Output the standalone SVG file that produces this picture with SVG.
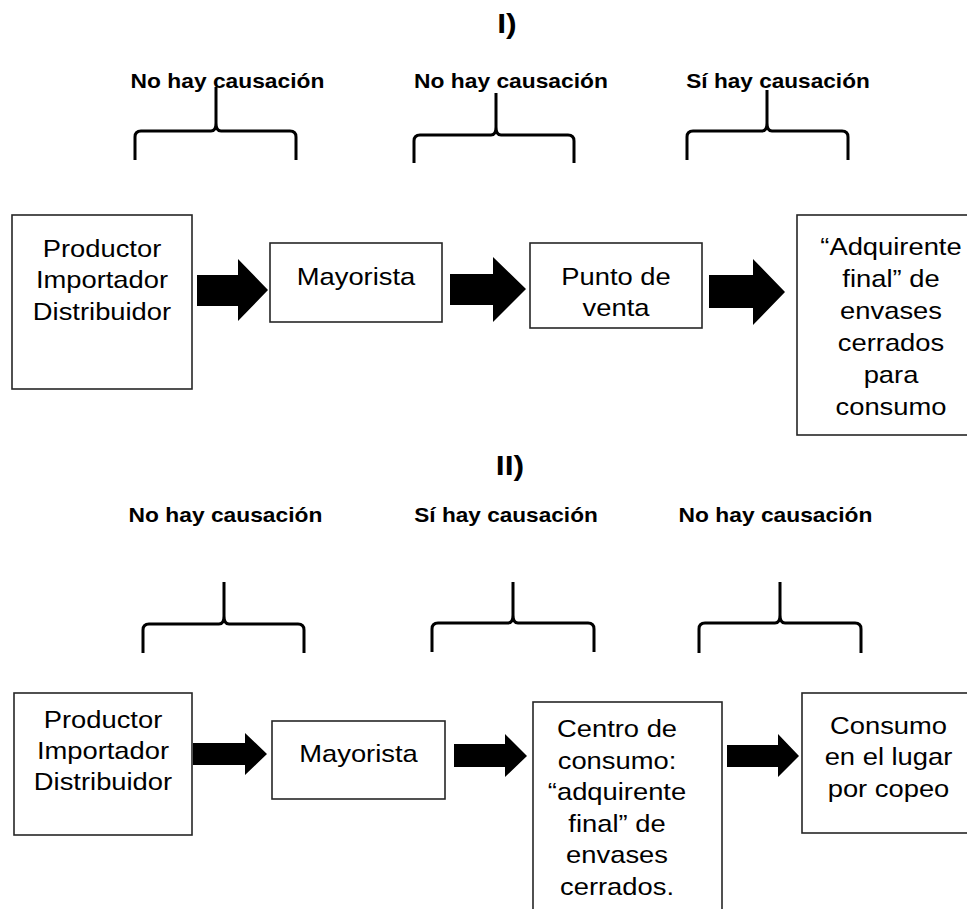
<svg xmlns="http://www.w3.org/2000/svg" width="967" height="909" viewBox="0 0 967 909">
<style>
.box{fill:#fff;stroke:#262626;stroke-width:1.6}
.t{font-family:"Liberation Sans",Arial,sans-serif;font-size:24px;fill:#000;text-anchor:middle}
.b{font-family:"Liberation Sans",Arial,sans-serif;font-size:20px;font-weight:bold;fill:#000;text-anchor:middle}
.h{font-family:"Liberation Sans",Arial,sans-serif;font-size:28px;font-weight:bold;fill:#000;text-anchor:middle}
.brace{fill:none;stroke:#000;stroke-width:3;stroke-linejoin:round}
.arrow{fill:#000;stroke:none}
</style>
<rect width="967" height="909" fill="#fff"/>
<g id="titles">
<text class="h" transform="translate(507,33) scale(1.14,1)">I)</text>
<text class="h" transform="translate(510,475) scale(1.14,1)">II)</text>
</g>
<g id="labels">
<text class="b" transform="translate(227.5,88) scale(1.14,1)">No hay causación</text>
<text class="b" transform="translate(511,88) scale(1.14,1)">No hay causación</text>
<text class="b" transform="translate(778,88) scale(1.14,1)" textLength="161" lengthAdjust="spacingAndGlyphs">Sí hay causación</text>
<text class="b" transform="translate(225.5,522) scale(1.14,1)">No hay causación</text>
<text class="b" transform="translate(506,522) scale(1.14,1)" textLength="161" lengthAdjust="spacingAndGlyphs">Sí hay causación</text>
<text class="b" transform="translate(775.5,522) scale(1.14,1)">No hay causación</text>
</g>
<g id="braces">
<path class="brace" d="M135,160 V137 Q135,131 141,131 H211 Q216,131 216,123 V87 M216,123 Q216,131 221,131 H290 Q296,131 296,137 V160"/>
<path class="brace" d="M414,163 V141 Q414,135 420,135 H491 Q496,135 496,127 V93 M496,127 Q496,135 501,135 H568 Q574,135 574,141 V163"/>
<path class="brace" d="M687,160 V137 Q687,131 693,131 H762 Q767,131 767,123 V90 M767,123 Q767,131 772,131 H842 Q848,131 848,137 V160"/>
<path class="brace" d="M143,653 V630 Q143,624 149,624 H219 Q224,624 224,616 V582 M224,616 Q224,624 229,624 H298 Q304,624 304,630 V653"/>
<path class="brace" d="M432,652 V629 Q432,623 438,623 H508 Q513,623 513,615 V582 M513,615 Q513,623 518,623 H588 Q594,623 594,629 V652"/>
<path class="brace" d="M699,653 V629 Q699,623 705,623 H775 Q780,623 780,615 V582 M780,615 Q780,623 785,623 H855 Q861,623 861,629 V653"/>
</g>
<g id="connectors">
<path class="arrow" d="M197,275 H238 V259 L268,290 L238,321 V306 H197 Z"/>
<path class="arrow" d="M450,274 H493 V257 L526,289 L493,322 V305 H450 Z"/>
<path class="arrow" d="M709,275 H753 V259 L785,292 L753,325 V308 H709 Z"/>
<path class="arrow" d="M193,743 H245 V733 L267,754 L245,775 V765 H193 Z"/>
<path class="arrow" d="M454,744 H505 V734 L527,756 L505,777 V767 H454 Z"/>
<path class="arrow" d="M727,745 H778 V734 L799,756 L778,777 V767 H727 Z"/>
</g>
<g id="productor1">
<rect class="box" x="12" y="215" width="180" height="174"/>
<text class="t" transform="translate(102,257) scale(1.14,1)"><tspan x="0" y="0">Productor</tspan><tspan x="0" y="31.5">Importador</tspan><tspan x="0" y="63">Distribuidor</tspan></text>
</g>
<g id="mayorista1">
<rect class="box" x="270" y="243" width="172" height="79"/>
<text class="t" transform="translate(356,285) scale(1.14,1)">Mayorista</text>
</g>
<g id="puntoventa">
<rect class="box" x="530" y="243" width="172" height="85"/>
<text class="t" transform="translate(616,285) scale(1.14,1)"><tspan x="0" y="0">Punto de</tspan><tspan x="0" y="31">venta</tspan></text>
</g>
<g id="adquirente">
<rect class="box" x="797" y="215" width="190" height="220"/>
<text class="t" transform="translate(891,255) scale(1.14,1)"><tspan x="0" y="0">“Adquirente</tspan><tspan x="0" y="32">final” de</tspan><tspan x="0" y="64">envases</tspan><tspan x="0" y="96">cerrados</tspan><tspan x="0" y="128">para</tspan><tspan x="0" y="160">consumo</tspan></text>
</g>
<g id="productor2">
<rect class="box" x="14" y="693" width="178" height="142"/>
<text class="t" transform="translate(103,728) scale(1.14,1)"><tspan x="0" y="0">Productor</tspan><tspan x="0" y="31">Importador</tspan><tspan x="0" y="62">Distribuidor</tspan></text>
</g>
<g id="mayorista2">
<rect class="box" x="272" y="721" width="173" height="78"/>
<text class="t" transform="translate(358.5,762) scale(1.14,1)">Mayorista</text>
</g>
<g id="centroconsumo">
<rect class="box" x="533" y="702" width="189" height="230"/>
<text class="t" transform="translate(617,737) scale(1.14,1)"><tspan x="0" y="0">Centro de</tspan><tspan x="0" y="31.6">consumo:</tspan><tspan x="0" y="63.2">“adquirente</tspan><tspan x="0" y="94.8">final” de</tspan><tspan x="0" y="126.4">envases</tspan><tspan x="0" y="158">cerrados.</tspan></text>
</g>
<g id="consumolugar">
<rect class="box" x="802" y="693" width="185" height="140"/>
<text class="t" transform="translate(888.5,734) scale(1.14,1)"><tspan x="0" y="0">Consumo</tspan><tspan x="0" y="31.5">en el lugar</tspan><tspan x="0" y="63">por copeo</tspan></text>
</g>
</svg>
